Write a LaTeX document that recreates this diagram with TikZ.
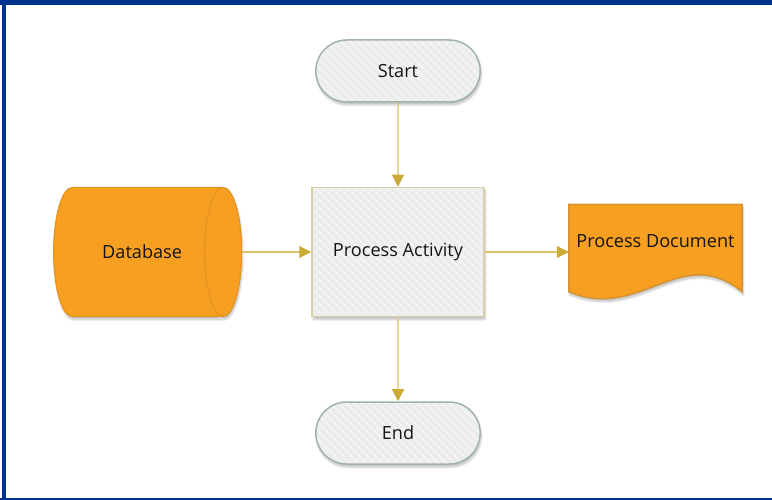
\documentclass[tikz,border=0pt]{standalone}
\usepackage{fontspec}
\setmainfont{Open Sans}
\usetikzlibrary{positioning,arrows.meta,shapes.geometric,shapes.misc,shadows.blur,patterns.meta,backgrounds}
\definecolor{frame}{RGB}{0,51,141}
\definecolor{tile}{RGB}{236,236,236}
\definecolor{stripe}{RGB}{244,244,244}
\definecolor{termline}{RGB}{160,180,170}
\definecolor{procline}{RGB}{216,206,168}
\definecolor{amber}{RGB}{247,159,32}
\definecolor{amberline}{RGB}{228,148,34}
\definecolor{docline}{RGB}{214,146,46}
\definecolor{flow}{RGB}{222,192,104}
\definecolor{flowhead}{RGB}{204,170,56}

\begin{document}
\begin{tikzpicture}[
  x=1bp, y=-1bp,
  node distance=84bp and 69bp,
  font=\fontsize{18.2}{21}\selectfont, text=black!92,
  shade/.style={blur shadow={shadow xshift=1bp, shadow yshift=-3bp, shadow opacity=25, shadow blur steps=6}},
  hatched/.style={preaction={fill=tile}, pattern={Lines[angle=-45, distance=6bp, line width=2bp]}, pattern color=stripe},
  terminal/.style={rounded rectangle, shade, hatched, draw=termline, line width=1.5bp, minimum width=171bp, minimum height=62bp},
  activity/.style={rectangle, shade, hatched, draw=procline, line width=1.5bp, minimum width=172bp, minimum height=129bp},
  storage/.style={cylinder, aspect=1.8, shade, draw=amberline, fill=amber, line width=1.2bp, minimum width=129bp, minimum height=188bp,
    execute at begin node={\hspace*{14bp}}},
  docbox/.style={rectangle, minimum width=173bp, minimum height=95bp},
  arrow/.style={-{Triangle[length=12bp, width=12bp, color=flowhead]}, line width=1.2bp, draw=flow}
]
\useasboundingbox (0,0) rectangle (772,500);

% page frame
\fill[frame] (0,0) rectangle (772,5);
\fill[frame] (2,0) rectangle (6,500);
\fill[frame] (0,497.5) rectangle (772,499.5);

\node[terminal] (start) at (398,71) {Start};
\node[activity, below=of start] (act) {Process Activity};
\node[terminal, below=of act] (end) {End};
\node[storage, left=of act] (db) {Database};
\node[docbox, right=84bp of act, label={[yshift=11bp]center:Process Document}] (doc) {};

% document outline with wavy bottom
\begin{scope}[on background layer]
\draw[shade, fill=amber, draw=docline, line width=1.5bp]
  (doc.north west) -- (doc.north east) -- ([yshift=8bp]doc.south east)
  .. controls ([shift={(112bp,58bp)}]doc.south west) and ([shift={(72bp,-22bp)}]doc.south west) .. ([yshift=8bp]doc.south west)
  -- cycle;
\end{scope}

\draw[arrow] (start) -- (act);
\draw[arrow] (db) -- (act);
\draw[arrow] (act) -- (doc);
\draw[arrow] (act) -- (end);
\end{tikzpicture}
\end{document}
